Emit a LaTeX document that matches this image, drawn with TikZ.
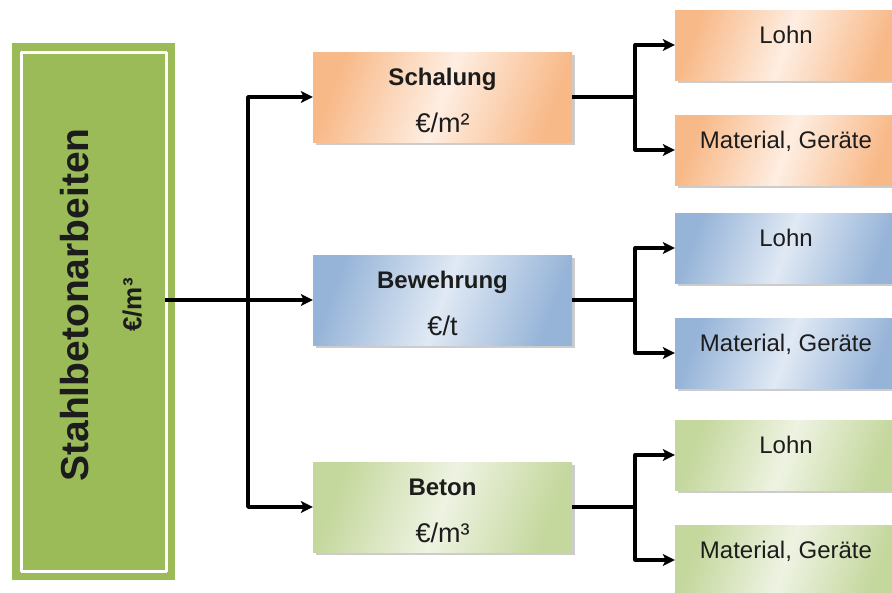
\documentclass[tikz,border=0pt]{standalone}
\usepackage{fontspec}
\setmainfont{Liberation Sans}
\usetikzlibrary{shadows,arrows.meta}
\definecolor{gruenD}{RGB}{155,187,89}
\definecolor{orangeR}{RGB}{248,185,136}
\definecolor{orangeH}{RGB}{254,238,226}
\definecolor{blauR}{RGB}{150,180,216}
\definecolor{blauH}{RGB}{224,233,244}
\definecolor{gruenR}{RGB}{196,215,156}
\definecolor{gruenH}{RGB}{238,243,226}
\definecolor{schrift}{RGB}{28,28,28}

\begin{document}
\begin{tikzpicture}[x=1pt,y=-1pt,line join=round,>={Stealth[length=12pt,width=12pt,inset=3pt]}]
	\tikzset{
		farbe/.style={left color=#1R,right color=#1R,middle color=#1H,shading angle=70},
		kasten/.style={minimum width=259pt,minimum height=90pt,drop shadow={shadow xshift=2.5pt,shadow yshift=-2.5pt,opacity=.4}},
		teil/.style={kasten,minimum width=222pt,minimum height=70pt,text=schrift,font=\fontsize{24}{28}\selectfont,text height=17pt,text depth=20pt},
		pfeil/.style={->,line width=3.5pt}
	}
	\useasboundingbox(0,0)rectangle(892,592);
	\clip(0,0)rectangle(892,592);
	% Hauptkasten
	\node[fill=gruenD,minimum width=163pt,minimum height=537pt](haupt)at(93.5,311.5){};
	\node[draw=white,line width=3pt,minimum width=145pt,minimum height=519pt](rahmen)at(haupt.center){};
	\node[rotate=90,align=center,text=schrift,font=\bfseries\fontsize{39}{41}\selectfont](titel)at(101,305){Stahlbetonarbeiten\\[12pt]{\fontsize{26}{30}\selectfont €/m³}};
	\coordinate(zweig)at(248,300);
	% Zeilen
	\foreach \n/\y/\f/\t/\u in {schal/97/orange/Schalung/{€/m²},bew/300/blau/Bewehrung/{€/t},bet/507/gruen/Beton/{€/m³}}{
		\node[kasten,farbe=\f](\n)at(442.5,\y){};
		\node[anchor=base,text=schrift,font=\bfseries\fontsize{24}{28}\selectfont](\n-t)at([yshift=11.5pt]\n.center){\t};
		\node[anchor=base,text=schrift,font=\fontsize{27}{30}\selectfont](\n-e)at([yshift=-35pt]\n.center){\u};
		\node[teil,farbe=\f](\n-l)at(786,\y-52){Lohn};
		\node[teil,farbe=\f](\n-m)at(786,\y+53){Material, Geräte};
		\draw[pfeil](\n.east)--++(63,0)|-(\n-l.west);
		\draw[pfeil](\n.east)--++(63,0)|-(\n-m.west);
		\draw[pfeil](zweig)|-(\n.west);
	}
	\draw[line width=3.5pt]([xshift=-10pt]haupt.east|-zweig)--(zweig);
\end{tikzpicture}
\end{document}
